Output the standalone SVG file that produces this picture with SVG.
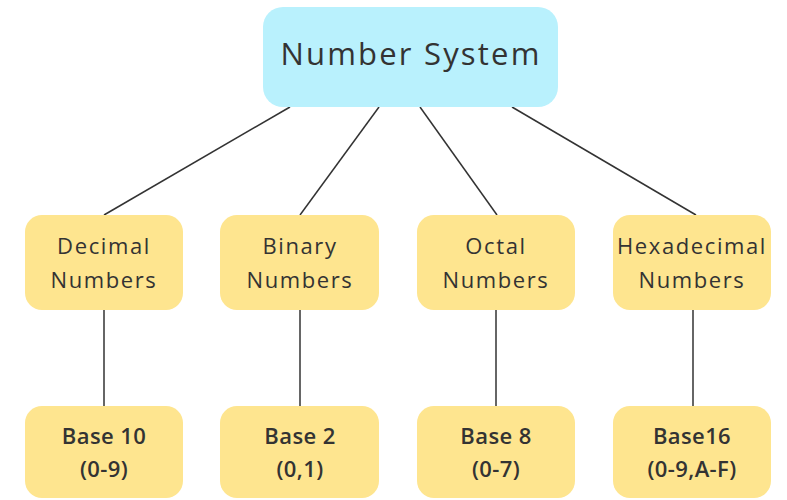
<svg xmlns="http://www.w3.org/2000/svg" width="787" height="500" viewBox="0 0 787 500">
<style>
.y{fill:#fee58f}
.t{font-family:"Open Sans","Liberation Sans",sans-serif;fill:#333;text-anchor:middle;font-weight:500}
.l2{font-size:22px;letter-spacing:1.6px}
.l3{font-size:22px;font-weight:600;letter-spacing:0.4px}
.c{stroke:#333;stroke-width:1.5;fill:none}
</style>
<rect width="787" height="500" fill="#fff"/>
<g id="connectors" class="c">
<line x1="290" y1="107" x2="104" y2="215"/>
<line x1="379" y1="107" x2="300" y2="215"/>
<line x1="420" y1="107" x2="497" y2="215"/>
<line x1="512" y1="107" x2="696" y2="215"/>
<line x1="104" y1="310" x2="104" y2="406"/>
<line x1="300" y1="310" x2="300" y2="406"/>
<line x1="496" y1="310" x2="496" y2="406"/>
<line x1="693" y1="310" x2="693" y2="406"/>
</g>
<g id="root"><rect x="263" y="7" width="295" height="100" rx="20" fill="#b9f1fd"/><text class="t" x="411" y="65" font-size="31" letter-spacing="2.2">Number System</text></g>
<g id="decimal"><rect class="y" x="25" y="215" width="158" height="95" rx="17"/><text class="t l2" x="104" y="254">Decimal</text><text class="t l2" x="104" y="288">Numbers</text></g>
<g id="binary"><rect class="y" x="220" y="215" width="159" height="95" rx="17"/><text class="t l2" x="300" y="254">Binary</text><text class="t l2" x="300" y="288">Numbers</text></g>
<g id="octal"><rect class="y" x="417" y="215" width="158" height="95" rx="17"/><text class="t l2" x="496" y="254">Octal</text><text class="t l2" x="496" y="288">Numbers</text></g>
<g id="hexadecimal"><rect class="y" x="613" y="215" width="158" height="95" rx="17"/><text class="t l2" x="692" y="254">Hexadecimal</text><text class="t l2" x="692" y="288">Numbers</text></g>
<g id="base10"><rect class="y" x="25" y="406" width="158" height="92" rx="17"/><text class="t l3" x="104" y="444">Base 10</text><text class="t l3" x="104" y="477">(0-9)</text></g>
<g id="base2"><rect class="y" x="220" y="406" width="159" height="92" rx="17"/><text class="t l3" x="300" y="444">Base 2</text><text class="t l3" x="300" y="477">(0,1)</text></g>
<g id="base8"><rect class="y" x="417" y="406" width="158" height="92" rx="17"/><text class="t l3" x="496" y="444">Base 8</text><text class="t l3" x="496" y="477">(0-7)</text></g>
<g id="base16"><rect class="y" x="613" y="406" width="158" height="92" rx="17"/><text class="t l3" x="692" y="444">Base16</text><text class="t l3" x="692" y="477">(0-9,A-F)</text></g>
</svg>
